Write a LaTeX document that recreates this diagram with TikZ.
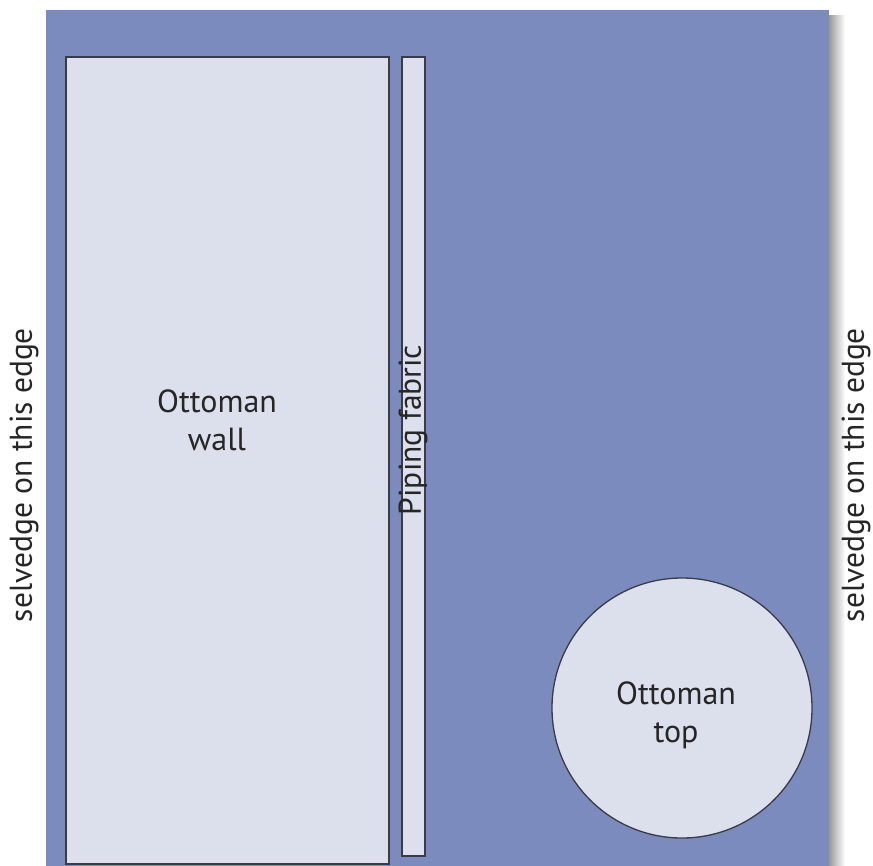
\documentclass[tikz,border=0pt]{standalone}
\usepackage{fontspec}
\setmainfont{PT Sans}
\definecolor{cloth}{RGB}{123,139,189}
\definecolor{piecefill}{RGB}{220,224,237}
\definecolor{piecedraw}{RGB}{58,58,72}
\begin{document}
\begin{tikzpicture}[x=1pt,y=-1pt,
        piece/.style={draw=piecedraw,fill=piecefill,line width=1.6pt,inner sep=0pt},
        cut/.style={font=\fontsize{32}{38}\selectfont,align=center,text=black!85},
        edgelabel/.style={font=\fontsize{31.5}{36}\selectfont,rotate=90,text=black!85}]
        \useasboundingbox (0,0) rectangle (873,865);
        % shadow and fabric
        \shade[left color=black!40,right color=white] (829,15) rectangle (845,865);
        \node[fill=cloth,inner sep=0pt,minimum width=783,minimum height=856] (fabric) at (437.5,437.5) {};
        % pieces
        \node[piece,minimum width=323,minimum height=807] (wall) at (227.5,460.5) {};
        \node[piece,minimum width=23,minimum height=799] (piping) at (413.5,456.5) {};
        \node[piece,circle,line width=1.3pt,minimum size=260] (top) at (682,708) {};
        % labels
        \node[cut] (walltext) at (217,420) {Ottoman\\wall};
        \node[cut] (toptext) at (676,715) {Ottoman\\top};
        \node[edgelabel] (pipingtext) at (413,430) {Piping fabric};
        \node[edgelabel] (leftedge) at (24,475) {selvedge on this edge};
        \node[edgelabel] (rightedge) at (856,475) {selvedge on this edge};
\end{tikzpicture}
\end{document}
